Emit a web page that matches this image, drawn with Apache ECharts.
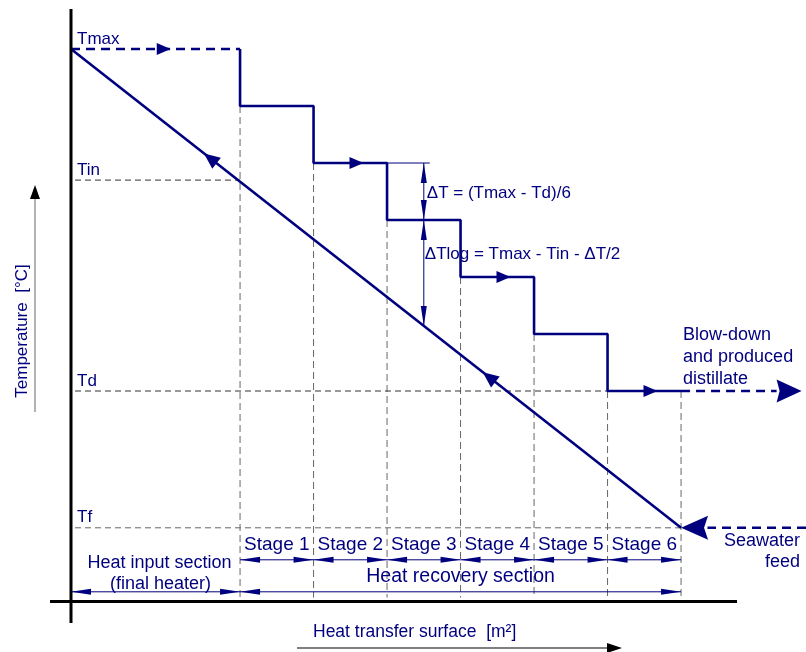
<!DOCTYPE html>
<html>
<head>
<meta charset="utf-8">
<script src="https://cdn.jsdelivr.net/npm/echarts@6/dist/echarts.min.js"></script>
<style>
  html, body { margin: 0; padding: 0; background: #ffffff; }
  #chart { width: 806px; height: 652px; }
</style>
</head>
<body>
<div id="chart"></div>
<script>
// ---- MSF temperature profile data ----
// Heat transfer surface (relative units): start of the final heater and stage boundaries
const heaterStart = 0;
const stageEdges = [2.3, 3.3, 4.3, 5.3, 6.3, 7.3, 8.3];
const stageNames = ['Stage 1', 'Stage 2', 'Stage 3', 'Stage 4', 'Stage 5', 'Stage 6'];
// Flashing brine temperature in each stage [°C]
const stageTemps = [80, 70, 60, 50, 40, 30];
// Characteristic temperatures [°C]
const levelNames = ['Tmax', 'Tin', 'Td', 'Tf'];
const levelTemps = [90, 67, 30, 6];
const [T_MAX, T_IN, T_D, T_F] = levelTemps;

// ---- styling / layout ----
const NAVY = '#00007f';
const GUIDE = '#666666';
const FONT = "'Liberation Sans', Arial, Helvetica, sans-serif";
const X_RANGE = [0, 10];
const Y_RANGE = [-8, 98];
const AXIS_Y = 601.5;          // pixel row of the horizontal frame line
const OUTLET_END = 9.6;        // where the dashed blow-down line meets its arrowhead
const FEED_START = 10;         // seawater feed enters from the right edge
const FLOW_ARROW_AT = 0.68;    // position of flow arrows inside a stage

const chart = echarts.init(document.getElementById('chart'), null, { renderer: 'canvas' });

// Brine path: stepwise drop from stage to stage
const stairData = [[stageEdges[0], T_MAX]];
stageTemps.forEach((t, i) => {
  stairData.push([stageEdges[i], t]);
  stairData.push([stageEdges[i + 1], t]);
});
const lastEdge = stageEdges[stageEdges.length - 1];

const lineSeries = (name, data, width, type) => ({
  name, type: 'line', data, symbol: 'none', silent: true, animation: false, z: 5,
  lineStyle: { color: NAVY, width, type }
});

chart.setOption({
  animation: false,
  backgroundColor: '#ffffff',
  grid: { left: 71, right: 0, top: 3.4, bottom: 44.4, containLabel: false },
  xAxis: { type: 'value', min: X_RANGE[0], max: X_RANGE[1], show: false },
  yAxis: { type: 'value', min: Y_RANGE[0], max: Y_RANGE[1], show: false },
  series: [
    lineSeries('brine', stairData, 2.6, 'solid'),
    lineSeries('heater', [[heaterStart, T_MAX], [stageEdges[0], T_MAX]], 2.6, [9, 6]),
    lineSeries('outlet', [[lastEdge, T_D], [OUTLET_END, T_D]], 2.6, [9, 6]),
    lineSeries('feed', [[FEED_START, T_F], [lastEdge + 0.36, T_F]], 2.6, [9, 6]),
    lineSeries('cooling', [[heaterStart, T_MAX], [lastEdge, T_F]], 2.6, 'solid')
  ]
});

const px = (x, y) => chart.convertToPixel({ gridIndex: 0 }, [x, y]);
const els = [];

// ---- helpers ----
function seg(p1, p2, stroke, width, dash, z) {
  els.push({ type: 'line', z: z || 1, silent: true,
    shape: { x1: p1[0], y1: p1[1], x2: p2[0], y2: p2[1] },
    style: { stroke, lineWidth: width, lineDash: dash || null } });
}
function head(tip, from, len, half, color, notch) {
  const dx = tip[0] - from[0], dy = tip[1] - from[1];
  const d = Math.hypot(dx, dy), ux = dx / d, uy = dy / d;
  const bx = tip[0] - ux * len, by = tip[1] - uy * len;
  const pts = [tip, [bx - uy * half, by + ux * half]];
  if (notch) pts.push([bx + ux * notch, by + uy * notch]);
  pts.push([bx + uy * half, by - ux * half]);
  els.push({ type: 'polygon', z: 20, silent: true, shape: { points: pts }, style: { fill: color || NAVY } });
}
function dim(p1, p2, len, half) {
  seg(p1, p2, NAVY, 1, null, 15);
  head(p1, p2, len, half);
  head(p2, p1, len, half);
}
function text(str, x, y, opt) {
  opt = opt || {};
  els.push({ type: 'text', z: 30, silent: true, x, y, rotation: opt.rotation || 0,
    style: { text: str, fill: opt.color || NAVY, font: (opt.size || 18) + 'px ' + FONT,
      fontSize: opt.size || 18, fontFamily: FONT,
      textAlign: opt.align || 'left', align: opt.align || 'left',
      textVerticalAlign: 'middle', verticalAlign: 'middle' } });
}

// ---- frame ----
const x0 = px(heaterStart, 0)[0];
seg([x0, 9], [x0, 623], '#000000', 3, null, 25);
seg([50, AXIS_Y], [737, AXIS_Y], '#000000', 3, null, 25);

// ---- guide lines ----
const bottomGuide = AXIS_Y - 4;
stageEdges.forEach((e, i) => {
  const top = px(e, stageTemps[Math.min(i, stageTemps.length - 1)]);
  seg(top, [top[0], bottomGuide], GUIDE, 1, [7, 4]);
});
const guideEnds = [null, stageEdges[0], lastEdge, lastEdge];
levelTemps.forEach((t, i) => {
  if (guideEnds[i] === null) return;
  seg([x0 + 4, px(0, t)[1]], px(guideEnds[i], t), i === 3 ? GUIDE : '#333333', 1, [6, 4]);
});

// ---- level labels ----
levelNames.forEach((n, i) => text(n, x0 + 6, px(0, levelTemps[i])[1] - 10, { size: 17 }));

// ---- flow arrows ----
head(px(stageEdges[0] * 0.59, T_MAX), px(heaterStart, T_MAX), 14, 6);
[1, 3, 5].forEach(i => {
  const xs = stageEdges[i] + FLOW_ARROW_AT * (stageEdges[i + 1] - stageEdges[i]);
  head(px(xs, stageTemps[i]), px(stageEdges[i], stageTemps[i]), 14, 6);
});
const diagA = px(heaterStart, T_MAX), diagB = px(lastEdge, T_F);
[0.218, 0.675].forEach(f => {
  const tip = [diagA[0] + (diagB[0] - diagA[0]) * f, diagA[1] + (diagB[1] - diagA[1]) * f];
  head(tip, diagB, 16, 7);
});
// outlet and feed arrowheads
const outEnd = px(OUTLET_END, T_D);
head([outEnd[0] + 25, outEnd[1]], outEnd, 25, 11.5, NAVY, 3);
head(px(lastEdge, T_F), px(FEED_START, T_F), 27, 12, NAVY, 4);

// ---- ΔT construction in stage 3 ----
const midS3 = (stageEdges[2] + stageEdges[3]) / 2;
const mx = px(midS3, 0)[0];
const yS2 = px(0, stageTemps[1])[1], yS3 = px(0, stageTemps[2])[1];
const diagAtMid = T_MAX - (T_MAX - T_F) * (midS3 - heaterStart) / (lastEdge - heaterStart);
const yDiag = px(midS3, diagAtMid)[1];
seg(px(stageEdges[2], stageTemps[1]), [mx + 6, yS2], NAVY, 1, null, 15);
dim([mx, yS2], [mx, yS3], 20, 3);
dim([mx, yS3], [mx, yDiag], 20, 3);
text('ΔT = (Tmax - Td)/6', mx + 3, (yS2 + yS3) / 2 + 2, { size: 17 });
text('ΔTlog = Tmax - Tin - ΔT/2', mx + 1, yS3 + 34, { size: 17 });

// ---- stage dimensions ----
const yTf = px(0, T_F)[1];
stageNames.forEach((n, i) => {
  const a = px(stageEdges[i], 0)[0], b = px(stageEdges[i + 1], 0)[0];
  text(n, (a + b) / 2, yTf + 17, { align: 'center', size: 19 });
  dim([a, yTf + 32], [b, yTf + 32], 20, 3);
});
const xE0 = px(stageEdges[0], 0)[0], xEn = px(lastEdge, 0)[0];
dim([x0, yTf + 64], [xE0, yTf + 64], 20, 3);
dim([xE0, yTf + 64], [xEn, yTf + 64], 20, 3);
text('Heat input section', (x0 + xE0) / 2 + 4, yTf + 35, { align: 'center' });
text('(final heater)', (x0 + xE0) / 2 + 5, yTf + 56, { align: 'center' });
text('Heat recovery section', (xE0 + xEn) / 2, yTf + 49, { align: 'center', size: 19.5 });

// ---- stream labels ----
const yTd = px(0, T_D)[1];
['Blow-down', 'and produced', 'distillate'].forEach((s, i) => text(s, xEn + 2, yTd - 56 + 22 * i));
['Seawater', 'feed'].forEach((s, i) => text(s, 800, yTf + 13 + 21 * i, { align: 'right' }));

// ---- axis titles ----
text('Temperature  [°C]', 22, 331, { size: 17, align: 'center', rotation: Math.PI / 2 });
seg([35, 199], [35, 412], '#808080', 1.2, null, 10);
head([35, 185], [35, 300], 14, 5, '#000000');
text('Heat transfer surface  [m²]', 313, 632, { size: 17.5 });
seg([297, 648], [610, 648], '#000000', 1.2, null, 10);
head([622, 648], [300, 648], 15, 5, '#000000');

chart.setOption({ graphic: { elements: els } });
</script>
</body>
</html>
